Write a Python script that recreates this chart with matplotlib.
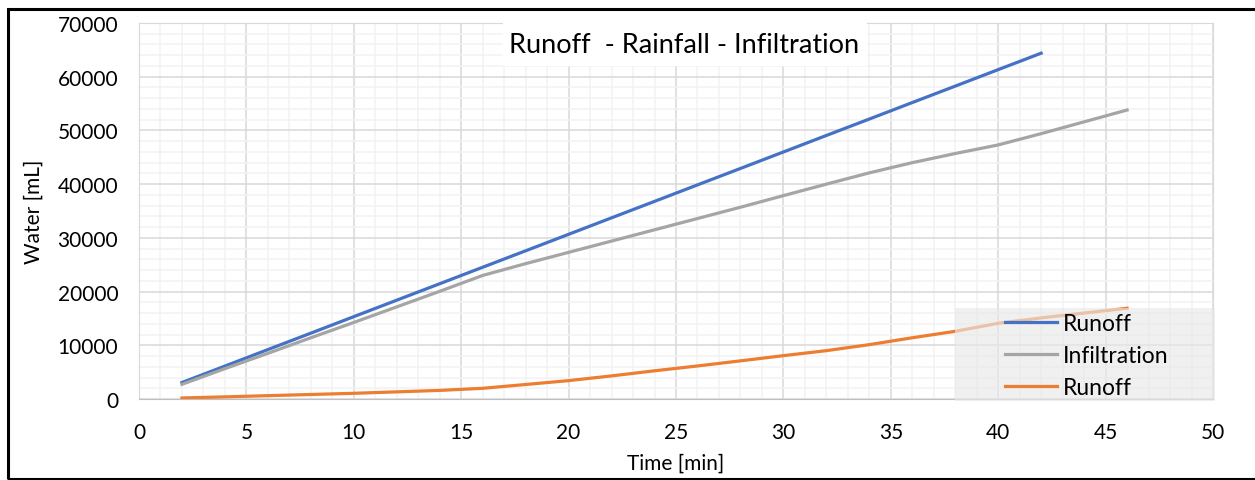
import matplotlib
matplotlib.use("Agg")
import matplotlib.pyplot as plt
from matplotlib.patches import Rectangle
from matplotlib.ticker import MultipleLocator

plt.rcParams["font.family"] = ["Lato", "DejaVu Sans"]

# time [min]
t_rain = [2, 4, 6, 8, 10, 12, 14, 16, 18, 20, 22, 24, 26, 28, 30, 32, 34,
          36, 38, 40, 42]
t_soil = [2, 4, 6, 8, 10, 12, 14, 16, 18, 20, 22, 24, 26, 28, 30, 32, 34,
          36, 38, 40, 42, 44, 46]

# cumulative water [mL]
rainfall = [3070, 6130, 9200, 12260, 15330, 18400, 21460, 24530, 27590,
            30660, 33730, 36790, 39860, 42920, 45990, 49060, 52120, 55190,
            58250, 61320, 64380]
infiltration = [2730, 5650, 8500, 11400, 14250, 17150, 20050, 23000, 25200,
                27300, 29400, 31500, 33600, 35700, 37860, 40000, 42100,
                44000, 45700, 47300, 49400, 51600, 53800]
runoff = [190, 400, 620, 840, 1060, 1330, 1600, 1990, 2700, 3420, 4300,
          5250, 6150, 7100, 8070, 9000, 10120, 11400, 12600, 14100, 15100,
          16000, 16890]

W, H = 1255, 481
fig = plt.figure(figsize=(W / 100, H / 100), dpi=100)
ax = fig.add_axes([139 / W, 1 - 400 / H, 1074 / W, 376 / H])

ax.plot(t_rain, rainfall, color="#4472C4", lw=2.3, label="Runoff", zorder=3)
ax.plot(t_soil, infiltration, color="#A5A5A5", lw=2.3, label="Infiltration",
        zorder=3)
ax.plot(t_soil, runoff, color="#ED7D31", lw=2.3, label="Runoff", zorder=3)

ax.set_xlim(0, 50)
ax.set_ylim(0, 70000)
ax.xaxis.set_major_locator(MultipleLocator(5))
ax.xaxis.set_minor_locator(MultipleLocator(1))
ax.yaxis.set_major_locator(MultipleLocator(10000))
ax.yaxis.set_minor_locator(MultipleLocator(2000))
ax.grid(which="major", color="#D9D9D9", lw=1.1, zorder=1)
ax.grid(which="minor", color="#F2F2F2", lw=1.1, zorder=0)
ax.set_axisbelow(True)
ax.tick_params(which="both", length=0, labelsize=15, colors="black")
ax.tick_params(axis="x", pad=16.5)
ax.tick_params(axis="y", pad=15)
for sp in ax.spines.values():
    sp.set_color("#D9D9D9")
ax.spines["bottom"].set_color("#BFBFBF")

ax.set_xlabel("Time [min]", fontsize=15, labelpad=8)
ax.set_ylabel("Water [mL]", fontsize=15, labelpad=10)

# title on a white box over the grid
ax.add_patch(Rectangle((0.339, 0.886), 0.339, 0.119, transform=ax.transAxes,
                       fc="white", ec="none", zorder=4, clip_on=False))
ax.text(0.5075, 0.944, "Runoff  - Rainfall - Infiltration", transform=ax.transAxes,
        ha="center", va="center", fontsize=19.5, zorder=5)

# legend: translucent grey panel in the lower right corner
ax.add_patch(Rectangle((0.760, -0.005), 0.242, 0.247, transform=ax.transAxes,
                       fc="#E8E8E8", ec="none", alpha=0.65, zorder=6,
                       clip_on=False))
leg = ax.legend(loc="upper left", bbox_to_anchor=(0.806, 0.228),
                fontsize=16.5, frameon=False, handlelength=2.3,
                handletextpad=0.22, labelspacing=0.48, borderpad=0,
                borderaxespad=0)
leg.set_zorder(7)

# chart border
fig.patches.append(Rectangle((8 / W, 1.5 / H), 1.2, 469.5 / H, transform=fig.transFigure,
                             fill=False, ec="black", lw=2.2))

fig.savefig("out.png", dpi=100, facecolor="white")
